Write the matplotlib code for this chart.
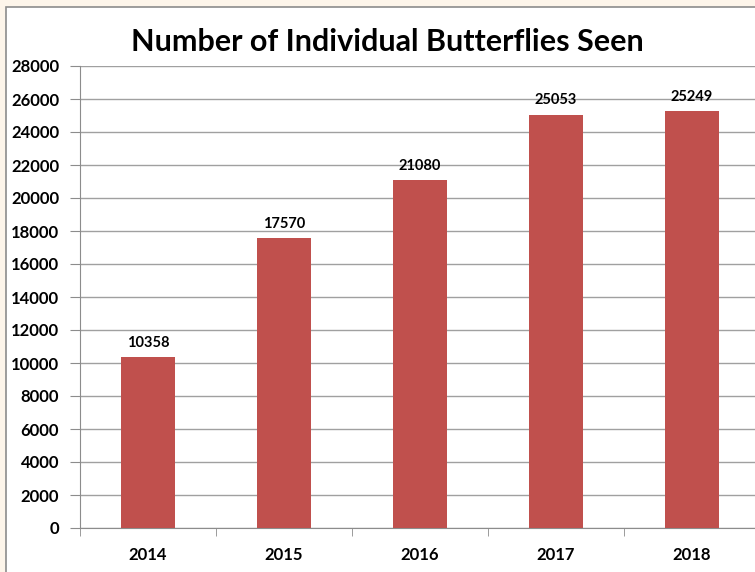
import matplotlib.pyplot as plt
from matplotlib.patches import Rectangle

# yearly butterfly counts
years = ['2014', '2015', '2016', '2017', '2018']
counts = [10358, 17570, 21080, 25053, 25249]
yticks = list(range(0, 28001, 2000))

plt.rcParams['font.family'] = ['Lato', 'DejaVu Sans']

fig = plt.figure(figsize=(7.55, 5.72), dpi=100)
fig.patch.set_facecolor('#fdf5ea')

# white chart panel with grey border
panel = Rectangle((6/755, -0.05), 1.1, 1 - 7/572 + 0.05, transform=fig.transFigure,
                  facecolor='white', edgecolor='#8c8c8c', linewidth=1.2, zorder=-10)
fig.patches.append(panel)

ax = fig.add_axes([80/755, 44/572, 680/755, 462/572])
ax.set_facecolor('none')

x = range(len(years))
ax.bar(x, counts, width=0.4, color='#c0504d', zorder=3)
for xi, c in zip(x, counts):
    ax.text(xi, c + 450, str(c), ha='center', va='bottom', fontsize=10.5,
            fontweight='bold', color='black')

ax.set_xlim(-0.5, len(years) - 0.5)
ax.set_ylim(0, 28000)
ax.set_yticks(yticks)
ax.set_yticklabels([str(v) for v in yticks], fontsize=12, fontweight='bold')
ax.set_xticks(list(x))
ax.set_xticklabels(years, fontsize=12, fontweight='bold')
ax.set_xticks([i - 0.5 for i in range(len(years) + 1)], minor=True)
ax.tick_params(axis='x', which='major', length=0, pad=14)
ax.tick_params(axis='x', which='minor', length=6, color='#8c8c8c', direction='out')
ax.tick_params(axis='y', length=7, color='#8c8c8c', pad=8)
ax.grid(axis='y', color='#a0a0a0', linewidth=1, zorder=1)

for side in ['top', 'right']:
    ax.spines[side].set_visible(False)
for side in ['left', 'bottom']:
    ax.spines[side].set_color('#8c8c8c')

fig.text(387/755, 1 - 42/572, 'Number of Individual Butterflies Seen', ha='center',
         va='center', fontsize=22, fontweight='bold')

fig.savefig('out.png', dpi=100, facecolor=fig.get_facecolor())
